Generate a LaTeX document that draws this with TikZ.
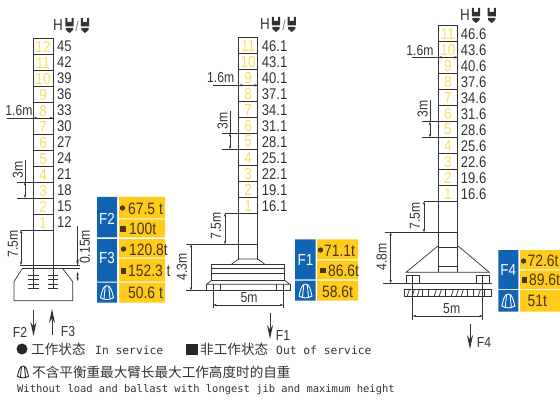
\documentclass[tikz,border=0pt]{standalone}
\usepackage{fontspec}
\usetikzlibrary{arrows.meta}
\setmainfont{Liberation Sans}
\newfontfamily\narrowfont[FakeStretch=0.84]{Liberation Sans}
\newfontfamily\cjkfont{Noto Sans CJK SC}
\newfontfamily\typefont{DejaVu Sans Mono}
\definecolor{cellyellow}{HTML}{F6E25A}
\definecolor{tabblue}{HTML}{1164B4}
\definecolor{tabyellow}{HTML}{FFCC1C}
\definecolor{inkgray}{HTML}{333333}
\definecolor{tabink}{HTML}{4A3510}

\begin{document}
\begin{tikzpicture}[
    x=1pt, y=-1pt,
    line/.style={draw=inkgray, line width=0.7pt},
    dim/.style={draw=inkgray, line width=0.6pt, {Stealth[length=3.5pt,width=2.4pt]}-{Stealth[length=3.5pt,width=2.4pt]}},
    load/.style={draw=inkgray, line width=1pt, -{Stealth[length=14pt,width=6pt]}},
    cellnum/.style={font=\narrowfont\fontsize{16}{16}\selectfont, text=cellyellow, inner sep=0pt},
    height/.style={font=\narrowfont\fontsize{15.5}{16}\selectfont, text=inkgray, inner sep=0pt, anchor=west},
    dimtext/.style={font=\narrowfont\fontsize{14.5}{15}\selectfont, text=inkgray, inner sep=0pt},
    blueleft/.style={text=white, inner sep=0pt, font=\narrowfont\fontsize{16}{16}\selectfont},
    yellowtxt/.style={font=\narrowfont\fontsize{16.5}{17}\selectfont, text=tabink, inner sep=0pt, anchor=west},
    legend/.style={font=\typefont\fontsize{11.3}{12}\selectfont, text=inkgray, inner sep=0pt, anchor=west},
    legendcjk/.style={font=\cjkfont\fontsize{13.6}{14}\selectfont, text=inkgray, inner sep=0pt, anchor=west},
    hookicon/.pic={
      \fill[inkgray] (-4.2,-7) -- (-2.2,-7) -- (-2.2,-3) -- (2.2,-3) -- (2.2,-7) -- (4.2,-7) -- (4.2,1.5) -- (-4.2,1.5) -- cycle;
      \fill[inkgray] (-3.6,3) -- (3.6,3) -- (3.6,5) -- (0,8) -- (-3.6,5) -- cycle;
    },
    domeicon/.pic={
      \draw[pic actions, line width=0.9pt, fill=none] (-6.5,5) .. controls (-5,-1) and (-4,-7) .. (0,-7) .. controls (4,-7) and (5,-1) .. (6.5,5) .. controls (3,7.5) and (-3,7.5) .. (-6.5,5) -- cycle;
      \draw[pic actions, line width=0.9pt, fill=none] (-1.8,-6) -- (-3,6) (1.8,-6) -- (3,6);
    }
  ]
    \useasboundingbox (0,0) rectangle (560,401);

    % left tower
    \foreach \n/\h in {12/45,11/42,10/39,9/36,8/33,7/30,6/27,5/24,4/21,3/18,2/15,1/12} {
      \pgfmathsetmacro{\ytop}{38.5+16*(12-\n)}
      \draw[line] (33.5,\ytop) rectangle (53,\ytop+16);
      \node[cellnum] (a\n) at (43.2,\ytop+8.2) {\n};
      \node[height] (ah\n) at (57,\ytop+8) {\h};
    }
    \node[dimtext, font=\narrowfont\fontsize{16}{16}\selectfont] (aH) at (58,25) {H};
    \pic at (69.5,25) {hookicon};
    \node[dimtext, text=gray] (aslash) at (77,26) {/};
    \pic at (85,25) {hookicon};

    \draw[line] (33.5,230) -- (33.5,288) (53,230) -- (53,288);
    \draw[line] (20,265) -- (80,265);
    \draw[line] (22,268) -- (80,268);
    \draw[line] (22,269) -- (14,281.7) -- (14,300.7) -- (72.7,300.7) -- (72.7,281.7) -- (63,269);
    \foreach \ty in {275,279,284,288} {
      \draw[line] (28,\ty) -- (39,\ty) (48,\ty) -- (58,\ty);
    }
    \draw[line] (7,118) -- (33.5,118);
    \draw[dim] (33.5,118) -- (53,118);
    \node[dimtext] (a16) at (19,111) {1.6m};
    \draw[line] (17,182) -- (33.5,182) (17,198) -- (33.5,198) (25,160) -- (25,182);
    \draw[dim] (25,182) -- (25,198);
    \node[dimtext, rotate=90] (a3m) at (18,170) {3m};
    \draw[line] (21,230) -- (33.5,230);
    \draw[dim] (21,230) -- (21,265);
    \node[dimtext, rotate=90] (a75) at (13,244) {7.5m};
    \draw[line] (77.7,226) -- (77.7,265);
    \draw[dim] (77.7,258) -- (77.7,265);
    \draw[dim] (77.7,272) -- (77.7,281);
    \node[dimtext, rotate=90] (a015) at (85,247) {0.15m};
    \draw[load] (33.5,310) -- (33.5,336);
    \draw[load] (52,335) -- (52,309);
    \node[dimtext] (aF2) at (20,332) {F2};
    \node[dimtext] (aF3) at (68,332) {F3};

    % left table
    \fill[tabyellow] (119,197) rectangle (165,218.3) (119,219.3) rectangle (165,237.3)
      (119,239) rectangle (165,257.7) (119,258.7) rectangle (165,281.7) (119,282.7) rectangle (165,302.7);
    \fill[tabblue] (97,197) rectangle (117,237.3) (97,239) rectangle (117,281.7) (97,282.7) rectangle (117,302.7);
    \node[blueleft] (tF2) at (107,219) {F2};
    \node[blueleft] (tF3) at (107,258) {F3};
    \pic[draw=white] at (107,292.7) {domeicon};
    \fill[tabink] (122.5,208) circle (2.7);
    \fill[tabink] (120,226) rectangle (125.5,231.5);
    \fill[tabink] (123.5,249) circle (2.7);
    \fill[tabink] (120.5,268) rectangle (126,273.5);
    \node[yellowtxt] (tv1) at (128,209) {67.5 t};
    \node[yellowtxt] (tv2) at (129,229) {100t};
    \node[yellowtxt] (tv3) at (129,250) {120.8t};
    \node[yellowtxt] (tv4) at (128,271) {152.3 t};
    \node[yellowtxt] (tv5) at (128,293) {50.6 t};

    % middle tower
    \foreach \n/\h in {11/46.1,10/43.1,9/40.1,8/37.1,7/34.1,6/31.1,5/28.1,4/25.1,3/22.1,2/19.1,1/16.1} {
      \pgfmathsetmacro{\ytop}{37.3+16*(11-\n)}
      \draw[line] (238.7,\ytop) rectangle (257.7,\ytop+16);
      \node[cellnum] (b\n) at (248.2,\ytop+8.2) {\n};
      \node[height] (bh\n) at (261.7,\ytop+8.5) {\h};
    }
    \node[dimtext, font=\narrowfont\fontsize{16}{16}\selectfont] (bH) at (265,24) {H};
    \pic at (276,24) {hookicon};
    \node[dimtext, text=gray] (bslash) at (284,25) {/};
    \pic at (291.7,24) {hookicon};

    \draw[line] (238.7,213.3) -- (238.7,260) (257.7,213.3) -- (257.7,260);
    \draw[line] (186,244.3) -- (257.7,244.3);
    \draw[line] (225,213.3) -- (238.7,213.3);
    \draw[dim] (225,213.3) -- (225,244.3);
    \node[dimtext, rotate=90] (b75) at (216,226) {7.5m};
    \draw[dim] (191,244.3) -- (191,290.5);
    \node[dimtext, rotate=90] (b43) at (182,267) {4.3m};
    \draw[line] (231.7,264) -- (238.7,259) -- (257.7,259) -- (264.5,264);
    \draw[line] (211.7,264) rectangle (284.3,280);
    \draw[line] (211.7,268) -- (284.3,268) (211.7,273.3) -- (284.3,273.3);
    \draw[line] (211.7,280) -- (206.7,284.3) -- (290,284.3) -- (284.3,280);
    \draw[line] (186,290.5) -- (290,290.5);
    \draw[line] (206.7,284.3) -- (206.7,290.5) (290,284.3) -- (290,290.5);
    \draw[line] (220,284.3) -- (220,290.5) (276.7,284.3) -- (276.7,290.5);
    \draw[line] (213.3,284.3) -- (213.3,308) (283.3,284.3) -- (283.3,308);
    \draw[line] (212.7,85.3) -- (238.7,85.3);
    \draw[dim] (238.7,85.3) -- (257.7,85.3);
    \node[dimtext] (b16) at (220.7,78) {1.6m};
    \draw[line] (221.7,133.3) -- (238.7,133.3) (221.7,149.3) -- (238.7,149.3) (230,111) -- (230,133.3);
    \draw[dim] (230,133.3) -- (230,149.3);
    \node[dimtext, rotate=90] (b3m) at (222.7,120.7) {3m};
    \draw[dim] (213.3,305) -- (283.3,305);
    \node[dimtext] (b5m) at (249,298) {5m};
    \draw[load] (270,313) -- (270,339);
    \node[dimtext] (bF1) at (283,336) {F1};

    % middle table
    \fill[tabyellow] (317,239.3) rectangle (358,259.3) (317,260.3) rectangle (358,279.3) (317,280.7) rectangle (358,300.7);
    \fill[tabblue] (295,239.3) rectangle (315.7,279.3) (295,280.7) rectangle (315.7,300.7);
    \node[blueleft] (tF1) at (305.5,259.5) {F1};
    \pic[draw=white] at (305.5,291) {domeicon};
    \fill[tabink] (320.5,250) circle (2.7);
    \fill[tabink] (320,267.5) rectangle (325.5,273);
    \node[yellowtxt] (tv6) at (324,250.5) {71.1t};
    \node[yellowtxt] (tv7) at (328,270.5) {86.6t};
    \node[yellowtxt] (tv8) at (322,291.5) {58.6t};

    % right tower
    \foreach \n/\h in {11/46.6,10/43.6,9/40.6,8/37.6,7/34.6,6/31.6,5/28.6,4/25.6,3/22.6,2/19.6,1/16.6} {
      \pgfmathsetmacro{\ytop}{25.3+16*(11-\n)}
      \draw[line] (438.3,\ytop) rectangle (457.7,\ytop+16);
      \node[cellnum] (c\n) at (447.8,\ytop+8.2) {\n};
      \node[height] (ch\n) at (460.7,\ytop+8.5) {\h};
    }
    \node[dimtext, font=\narrowfont\fontsize{16}{16}\selectfont] (cH) at (465,15) {H};
    \pic at (476,15) {hookicon};
    \pic at (491.7,15) {hookicon};

    \draw[line] (438.3,201.3) -- (438.3,272.3) (457.7,201.3) -- (457.7,272.3);
    \draw[line] (385,232.3) -- (457.7,232.3);
    \draw[line] (438.3,247.3) -- (457.7,247.3) (438.3,266.7) -- (457.7,266.7);
    \draw[line] (424,201.3) -- (438.3,201.3);
    \draw[dim] (424,201.3) -- (424,232.3);
    \node[dimtext, rotate=90] (c75) at (415,216) {7.5m};
    \draw[dim] (390.7,232.3) -- (390.7,283.3);
    \node[dimtext, rotate=90] (c48) at (381.7,256.7) {4.8m};
    \draw[line] (438.3,245.7) -- (406,272.3) -- (489.3,272.3) -- (457.7,245.7);
    \draw[line] (383,283.3) -- (491.7,283.3);
    \draw[line] (406,275.7) rectangle (419.3,283.3) (476.7,275.7) rectangle (489.3,283.3);
    \draw[line] (412.7,275.7) -- (412.7,320) (482.7,275.7) -- (482.7,320);
    \draw[line] (404.3,289.3) rectangle (491.7,296.7);
    \foreach \hx/\dx in {407/2.5,412/2.5,417/2.5,422/0,428/0,434/2.5,439/2.5,445/0,451/2.5,456/2.5,461/2.5,467/0,473/0,478/2.5,484/0} {
      \draw[line] (\hx,296.7) -- (\hx+\dx,289.3);
    }
    \draw[line] (411.7,57.3) -- (438.3,57.3);
    \draw[dim] (438.3,57.3) -- (457.7,57.3);
    \node[dimtext] (c16) at (420,50.7) {1.6m};
    \draw[line] (421.7,121.7) -- (438.3,121.7) (421.7,137.3) -- (438.3,137.3) (430,100) -- (430,121.7);
    \draw[dim] (430,121.7) -- (430,137.3);
    \node[dimtext, rotate=90] (c3m) at (422.7,109) {3m};
    \draw[dim] (412.7,316) -- (482.7,316);
    \node[dimtext] (c5m) at (451.7,308.3) {5m};
    \draw[load] (470,324) -- (470,349);
    \node[dimtext] (cF4) at (484,342.7) {F4};

    % right table
    \fill[tabyellow] (520,250) rectangle (560,269.3) (520,270.3) rectangle (560,289) (520,290) rectangle (560,311.7);
    \fill[tabblue] (498.3,250) rectangle (518.3,289) (498.3,290) rectangle (518.3,311.7);
    \node[blueleft] (tF4) at (508.3,270) {F4};
    \pic[draw=white] at (508.3,301) {domeicon};
    \fill[tabink] (523.5,261) circle (2.7);
    \fill[tabink] (521.5,277) rectangle (527,282.5);
    \node[yellowtxt] (tv9) at (527.5,261) {72.6t};
    \node[yellowtxt] (tv10) at (529,280) {89.6t};
    \node[yellowtxt] (tv11) at (527.5,301) {51t};

    % legend
    \fill[black!85] (22,349) circle (5.5);
    \node[legendcjk] (l1) at (31,349) {工作状态};
    \node[legend] (l2) at (95,350) {In service};
    \fill[black!85] (186,344) rectangle (198,355);
    \node[legendcjk] (l3) at (200,349) {非工作状态};
    \node[legend] (l4) at (276,350) {Out of service};
    \pic[draw=black!85, scale=0.85] at (23,372) {domeicon};
    \node[legendcjk] (l5) at (32,372) {不含平衡重最大臂长最大工作高度时的自重};
    \node[legend, font=\typefont\fontsize{10.45}{12}\selectfont] (l6) at (17,390) {Without load and ballast with longest jib and maximum height};
\end{tikzpicture}
\end{document}
